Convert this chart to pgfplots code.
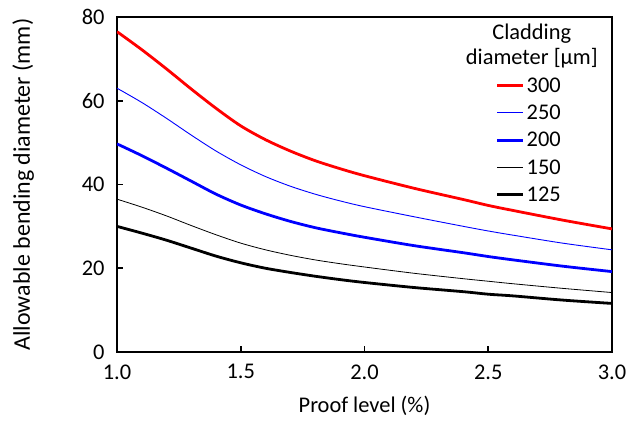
\documentclass[border=0pt]{standalone}
\usepackage{pgfplots}
\pgfplotsset{compat=1.18}
\usepackage{fontspec}
\setmainfont{Carlito}
\definecolor{myred}{RGB}{255,0,0}
\definecolor{myblue}{RGB}{0,0,255}
\pgfplotstableread{
x s300 s250 s200 s150 s125
1.0 76.5 63.0 49.7 36.5 30.0
1.1 72.2 59.6 46.9 34.6 28.4
1.2 67.6 55.8 43.9 32.5 26.7
1.3 62.8 51.8 40.8 30.2 24.8
1.4 58.2 48.0 37.7 28.0 22.9
1.5 54.0 44.7 35.1 26.0 21.3
1.6 50.7 41.9 33.0 24.4 20.0
1.7 48.0 39.6 31.2 23.1 19.0
1.8 45.7 37.7 29.7 22.0 18.1
1.9 43.8 36.1 28.5 21.1 17.3
2.0 42.1 34.7 27.4 20.3 16.6
2.2 39.1 32.3 25.4 18.8 15.4
2.4 36.4 30.0 23.7 17.5 14.4
2.5 35.0 28.9 22.8 16.9 13.8
2.6 33.8 27.9 22.0 16.3 13.4
2.8 31.5 26.0 20.5 15.2 12.4
3.0 29.4 24.4 19.2 14.2 11.6
}\datatable
\begin{document}
\begin{tikzpicture}
\begin{axis}[
  at={(0,0)}, anchor=south west,
  scale only axis,
  width=495bp, height=335bp,
  xmin=1, xmax=3, ymin=0, ymax=80,
  xtick={1,1.5,2,2.5,3},
  ytick={0,20,40,60,80},
  xticklabel style={/pgf/number format/fixed,/pgf/number format/fixed zerofill,/pgf/number format/precision=1, yshift=-9bp},
  yticklabel style={xshift=-9bp},
  /pgf/number format/assume math mode=true,
  tick label style={font=\fontsize{22.5}{26}\selectfont},
  xlabel style={font=\fontsize{22.5}{26}\selectfont, yshift=-10bp},
  ylabel style={font=\fontsize{24}{28}\selectfont, yshift=41bp},
  axis line style={line width=2.2bp},
  major tick style={line width=1.6bp, black},
  major tick length=6bp,
  tick align=inside,
  xtick pos=bottom, ytick pos=left,
  xlabel={Proof level (\%)},
  ylabel={Allowable bending diameter (mm)},
  legend style={draw=none, fill=none, at={(0.765,0.826)}, anchor=north west,
    font=\fontsize{22.5}{26}\selectfont, row sep=7.3bp, inner sep=0pt},
  legend cell align=left,
  legend image code/.code={\draw[#1] (0bp,0bp) -- (26bp,0bp);},
  every axis plot/.append style={smooth},
]
\addplot[myred, line width=2.8bp] table[x=x,y=s300] {\datatable};
\addlegendentry{300}
\addplot[myblue, line width=0.9bp] table[x=x,y=s250] {\datatable};
\addlegendentry{250}
\addplot[myblue, line width=2.8bp] table[x=x,y=s200] {\datatable};
\addlegendentry{200}
\addplot[black, line width=0.8bp] table[x=x,y=s150] {\datatable};
\addlegendentry{150}
\addplot[black, line width=2.8bp] table[x=x,y=s125] {\datatable};
\addlegendentry{125}
\node[align=center, font=\fontsize{22.5}{25}\selectfont, anchor=center] at (rel axis cs:0.838,0.914) {Cladding\\diameter [μm]};
\end{axis}
\pgfresetboundingbox
\useasboundingbox (-117bp,-78bp) rectangle (520bp,352bp);
\end{tikzpicture}
\end{document}
